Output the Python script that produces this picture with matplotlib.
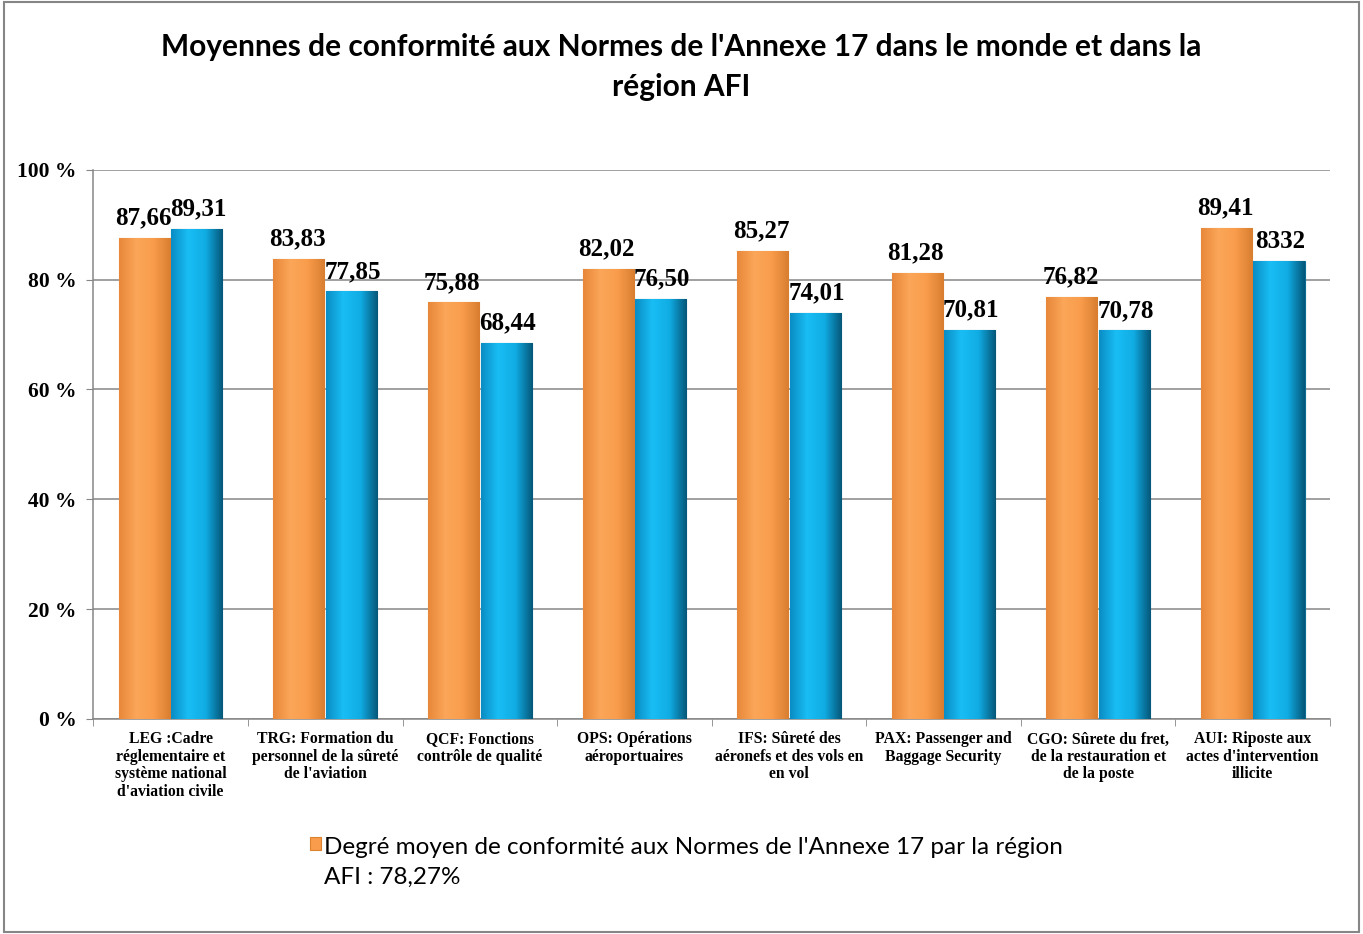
import matplotlib.pyplot as plt
import numpy as np
from matplotlib.patches import Rectangle
from matplotlib.colors import LinearSegmentedColormap

categories = [
    "LEG :Cadre\nréglementaire et\nsystème national\nd'aviation civile",
    "TRG: Formation du\npersonnel de la sûreté\nde l'aviation",
    "QCF: Fonctions\ncontrôle de qualité",
    "OPS: Opérations\naéroportuaires",
    "IFS: Sûreté des\naéronefs et des vols en\nen vol",
    "PAX: Passenger and\nBaggage Security",
    "CGO: Sûrete du fret,\nde la restauration et\nde la poste",
    "AUI: Riposte aux\nactes d'intervention\nillicite",
]
afi = [87.66, 83.83, 75.88, 82.02, 85.27, 81.28, 76.82, 89.41]
world = [89.31, 77.85, 68.44, 76.50, 74.01, 70.81, 70.78, 83.32]
afi_labels = ["87,66", "83,83", "75,88", "82,02", "85,27", "81,28", "76,82", "89,41"]
world_labels = ["89,31", "77,85", "68,44", "76,50", "74,01", "70,81", "70,78", "8332"]

orange = "#F99D4C"
blue = "#12B3EC"
grey = "#868686"

orange_cmap = LinearSegmentedColormap.from_list("o", ["#E8883A", "#FBA659", "#F99D4C", "#D97E30"])
blue_cmap = LinearSegmentedColormap.from_list("b", ["#0A8DC4", "#19BEF5", "#10ACE4", "#05587A"])

fig = plt.figure(figsize=(13.63, 9.34), dpi=100)
fig.patches.append(Rectangle((0.003, 0.002), 0.994, 0.996, transform=fig.transFigure,
                             fill=False, edgecolor=grey, linewidth=1.5))
ax = fig.add_axes([0.0685, 0.2302, 0.9073, 0.588])

x = np.arange(len(categories))
w = 0.33
b1 = ax.bar(x - w / 2 - 0.005, afi, w, color=orange, edgecolor="#D9822F", linewidth=0.8, zorder=3,
            label="Degré moyen de conformité aux Normes de l'Annexe 17 par la région\nAFI : 78,27%")
b2 = ax.bar(x + w / 2 + 0.005, world, w, color=blue, edgecolor="#0A6E96", linewidth=0.8, zorder=3)

# soft shading across each bar
grad = np.linspace(0, 1, 64).reshape(1, -1)
for bars, cmap in [(b1, orange_cmap), (b2, blue_cmap)]:
    for rect in bars:
        x0, h, bw = rect.get_x(), rect.get_height(), rect.get_width()
        im = ax.imshow(grad, cmap=cmap, aspect="auto", extent=[x0, x0 + bw, 0, h], zorder=3.5)
        im.set_clip_path(rect)

for rect, lab in zip(b1, afi_labels):
    ax.annotate(lab, (rect.get_x() + rect.get_width() / 2, rect.get_height()),
                xytext=(-1, 6), textcoords="offset points", ha="center", va="bottom",
                family="Liberation Serif", fontweight="bold", fontsize=18)
for rect, lab in zip(b2, world_labels):
    ax.annotate(lab, (rect.get_x() + rect.get_width() / 2, rect.get_height()),
                xytext=(1, 6), textcoords="offset points", ha="center", va="bottom",
                family="Liberation Serif", fontweight="bold", fontsize=18)

ax.set_xlim(-0.5, len(categories) - 0.5)
ax.set_ylim(0, 100)
ax.set_yticks(np.arange(0, 101, 20))
ax.set_yticklabels([f"{v} %" for v in range(0, 101, 20)], family="Liberation Serif",
                   fontweight="bold", fontsize=15.5)
ax.yaxis.grid(True, color=grey, linewidth=1.1, zorder=0)
ax.set_axisbelow(True)

ax.set_xticks(x)
ax.set_xticklabels(categories, family="Liberation Serif", fontweight="bold", fontsize=11.3,
                   linespacing=1.12, va="top")
ax.set_xticks(np.arange(-0.5, len(categories)), minor=True)
ax.tick_params(axis="x", which="major", length=0, pad=9)
ax.tick_params(axis="x", which="minor", length=5, color=grey, direction="out")
ax.tick_params(axis="y", length=5, color=grey, direction="out", pad=7)

for s in ["top", "right"]:
    ax.spines[s].set_visible(False)
for s in ["left", "bottom"]:
    ax.spines[s].set_color(grey)
    ax.spines[s].set_linewidth(1.1)

fig.text(0.5, 0.965, "Moyennes de conformité aux Normes de l'Annexe 17 dans le monde et dans la\nrégion AFI",
         ha="center", va="top", family="Lato", fontweight="bold", fontsize=21.5, linespacing=1.55)

leg = fig.legend(handles=[b1], loc="upper left", bbox_to_anchor=(0.2275, 0.104),
                 frameon=False, prop={"family": "Lato", "size": 17.5}, handlelength=0.45,
                 handleheight=0.45, handletextpad=0.12, borderaxespad=0, borderpad=0)
for t in leg.get_texts():
    t.set_linespacing(1.5)
# keep the marker next to the first line of the label
for col in leg._legend_handle_box.get_children():
    for item in col.get_children():
        item.align = "top"

fig.savefig("out.png", dpi=100)
